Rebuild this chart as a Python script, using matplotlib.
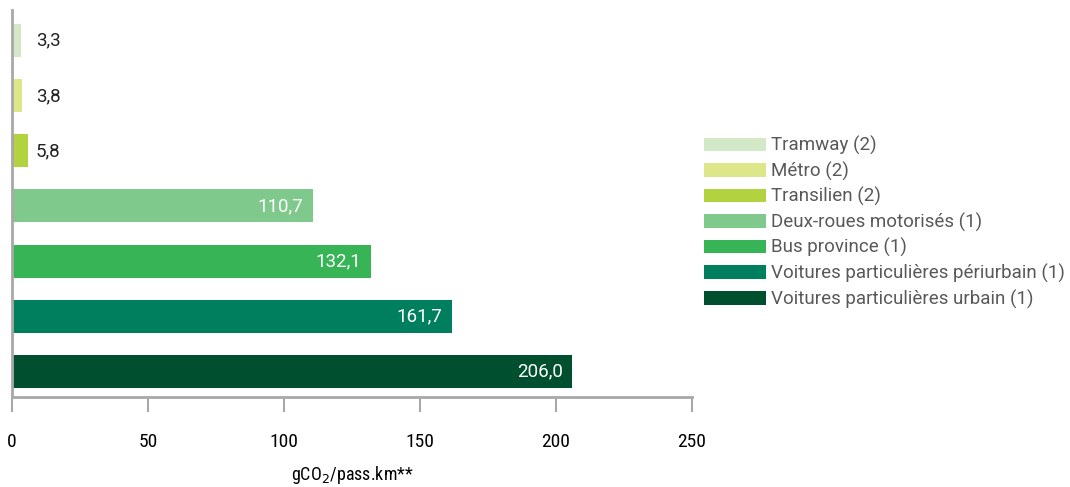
import matplotlib
matplotlib.use("Agg")
import matplotlib.pyplot as plt
from matplotlib.patches import Patch

categories = ["Tramway (2)", "Métro (2)", "Transilien (2)", "Deux-roues motorisés (1)",
              "Bus province (1)", "Voitures particulières périurbain (1)",
              "Voitures particulières urbain (1)"]
values = [3.3, 3.8, 5.8, 110.7, 132.1, 161.7, 206.0]
colors = ["#d3e8c6", "#dde78a", "#b2d33f", "#80c98c", "#36b456", "#007f5e", "#005030"]
xticks = [0, 50, 100, 150, 200, 250]

narrow = ["Liberation Sans Narrow", "Roboto Condensed", "Liberation Sans", "DejaVu Sans"]

fig = plt.figure(figsize=(10.70, 4.87), dpi=100)
W, H = 1070, 487
ax = fig.add_axes([12 / W, 1 - 397 / H, 680 / W, 387 / H])

ypos = list(range(len(categories)))
ax.barh(ypos, values, height=0.6, color=colors)

for y, v in zip(ypos, values):
    label = f"{v:.1f}".replace(".", ",")
    if v > 50:
        ax.text(v - 3.6, y, label, ha="right", va="center", color="white",
                fontsize=13.5, family="Roboto")
    else:
        # small values: labels lined up just right of the short bars
        ax.text(8.8, y, label, ha="left", va="center", color="#222222",
                fontsize=13.5, family="Roboto")

ax.set_xlim(0, 250)
ax.set_ylim(6.47, -0.56)
ax.set_yticks([])
ax.set_xticks(xticks)
ax.set_xticklabels([str(t) for t in xticks], family=narrow, fontsize=14)
ax.tick_params(axis="x", length=11, width=1.5, color="#a8a8a8", pad=15)
for s in ["top", "right"]:
    ax.spines[s].set_visible(False)
for s in ["left", "bottom"]:
    ax.spines[s].set_color("#a8a8a8")
    ax.spines[s].set_linewidth(2)
ax.set_xlabel("gCO$_2$/pass.km**", family=narrow, fontsize=13, labelpad=9)

handles = [Patch(facecolor=c, edgecolor="none") for c in colors]
leg = fig.legend(handles, categories, loc="upper left", bbox_to_anchor=(704 / W, 1 - 136 / H),
                 frameon=False, handlelength=3.3, handleheight=0.75, handletextpad=0.28,
                 labelspacing=0.34, borderaxespad=0, borderpad=0,
                 prop={"family": "Roboto", "size": 13.5})
for t in leg.get_texts():
    t.set_color("#595959")

fig.savefig("out.png", dpi=100)
